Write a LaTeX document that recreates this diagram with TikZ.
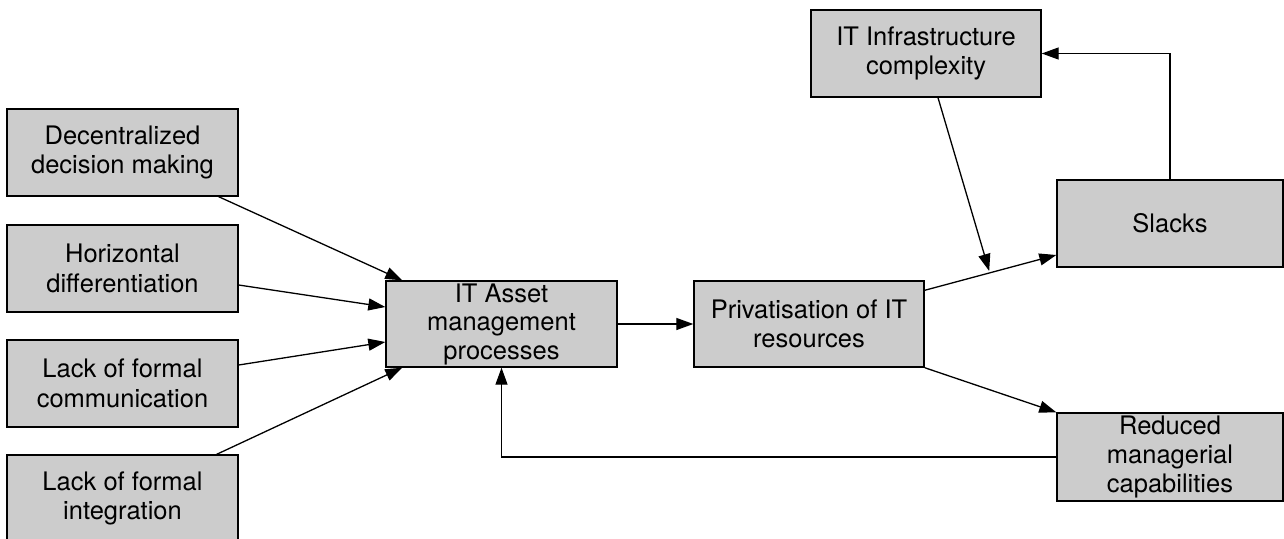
\documentclass[tikz,border=0pt]{standalone}
\usepackage{fontspec}
\setmainfont{TeX Gyre Heros}
\usetikzlibrary{arrows.meta,calc}
\definecolor{boxgray}{HTML}{CCCCCC}
\tikzset{
  box/.style={draw=black, fill=boxgray, line width=1.4pt, inner sep=0pt, align=center,
    font=\fontsize{25.5}{29.5}\selectfont},
  arr/.style={line width=1.3pt, -{Triangle[length=17pt,width=12pt]}}
}
\begin{document}
\begin{tikzpicture}[x=1pt,y=-1pt]
\useasboundingbox (0,0) rectangle (1284,538);
\node[box, minimum width=231pt, minimum height=87pt] (dec) at (122.5,152.5) {Decentralized\\decision making};
\node[box, minimum width=231pt, minimum height=87pt] (hor) at (122.5,268.5) {Horizontal\\differentiation};
\node[box, minimum width=231pt, minimum height=87pt] (com) at (122.5,383.5) {Lack of formal\\communication};
\node[box, minimum width=231pt, minimum height=87pt] (int) at (122.5,498.5) {Lack of formal\\integration};
\node[box, minimum width=231pt, minimum height=86pt, font=\fontsize{25.5}{28.5}\selectfont] (asset) at (501.5,324) {IT Asset\\management\\processes};
\node[box, minimum width=230pt, minimum height=86pt] (priv) at (809,324) {Privatisation of IT\\resources};
\node[box, minimum width=230pt, minimum height=87pt] (infra) at (926,53.5) {IT Infrastructure\\complexity};
\node[box, minimum width=226pt, minimum height=87pt] (slacks) at (1170,223.5) {Slacks};
\node[box, minimum width=226pt, minimum height=88pt, font=\fontsize{25.5}{29}\selectfont] (red) at (1170,457) {Reduced\\managerial\\capabilities};

\draw[arr] ([xshift=-20pt]dec.south east) -- ([xshift=17pt]asset.north west);
\draw[arr] ([yshift=-16.5pt]hor.east) -- ([yshift=17pt]asset.west);
\draw[arr] ([yshift=18.5pt]com.east) -- ([yshift=-18pt]asset.west);
\draw[arr] ([xshift=-22pt]int.north east) -- ([xshift=17pt]asset.south west);
\draw[arr] (asset.east) -- (priv.west);
\draw[arr] ([yshift=-10pt]priv.north east) -- coordinate[pos=0.49] (m) ([yshift=-31.5pt]slacks.west);
\draw[arr] ([xshift=12pt]infra.south) -- ([yshift=2pt]m);
\draw[arr] (slacks.north) |- (infra.east);
\draw[arr] (priv.south east) -- (red.north west);
\draw[arr] (red.west) -| (asset.south);
\end{tikzpicture}
\end{document}
